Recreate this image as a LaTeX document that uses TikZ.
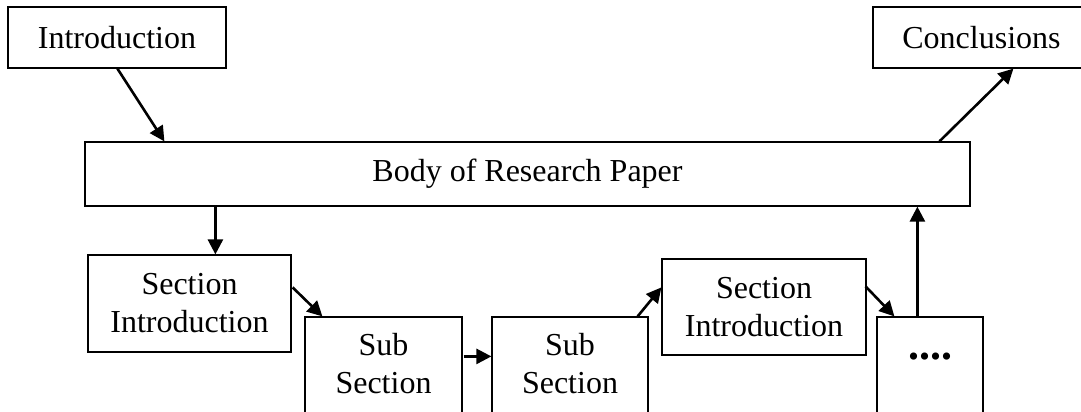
\documentclass[tikz,border=0pt]{standalone}
\usepackage{fontspec}
\setmainfont{Liberation Serif}
\usetikzlibrary{arrows.meta,calc}
\begin{document}
\begin{tikzpicture}[x=0.5pt,y=-0.5pt,
  box/.style={draw,line width=0.6pt,rectangle,inner sep=0pt,align=center,
    font=\fontsize{16}{19}\selectfont},
  conn/.style={line width=1.3pt,-{Triangle[length=7.5pt,width=7.5pt]}}]
\clip (0,0) rectangle (1081,412);
\useasboundingbox (0,0) rectangle (1081,412);
\fill[white] (0,0) rectangle (1081,412);
\node[box,minimum width=109pt,minimum height=30.5pt] (intro) at (117,37.5) {Introduction};
\node[box,minimum width=108.5pt,minimum height=30.5pt] (concl) at (981.5,37.5) {Conclusions};
\node[box,minimum width=442.5pt,minimum height=32pt] (body) at (527.5,174) {Body of Research Paper};
\node[box,minimum width=101.5pt,minimum height=48.5pt] (si1) at (189.5,303.5) {Section\\Introduction};
\node[box,minimum width=78.5pt,minimum height=50pt,text depth=4pt] (ss1) at (383.5,367) {Sub\\Section};
\node[box,minimum width=78pt,minimum height=50pt,text depth=4pt] (ss2) at (570,367) {Sub\\Section};
\node[box,minimum width=102pt,minimum height=48pt] (si2) at (764,307) {Section\\Introduction};
\node[box,minimum width=53pt,minimum height=50pt,text height=3pt,text depth=11pt,
  font=\fontsize{22}{24}\selectfont\bfseries] (dots) at (930,367) {....};
\draw[conn] ($(intro.south west)+(110,0)$) -- ($(body.north west)+(80,0)$);
\draw[conn] ($(body.north west)+(855,0)$) -- ($(concl.south west)+(141,0)$);
\draw[conn] ($(body.south west)+(131,0)$) -- ($(si1.north west)+(128,0)$);
\draw[conn] ($(si1.north east)+(1,33)$) -- ($(ss1.north west)+(18,0)$);
\draw[conn] ($(ss1.north east)+(1,40)$) -- ($(ss2.north west)+(0,40)$);
\draw[conn] ($(ss2.north east)+(-11,0)$) -- ($(si2.north west)+(0,29)$);
\draw[conn] ($(si2.north east)+(-1,28)$) -- ($(dots.north west)+(18,0)$);
\draw[conn] ($(dots.north west)+(41,0)$) -- ($(body.south west)+(833,0)$);
\end{tikzpicture}
\end{document}
